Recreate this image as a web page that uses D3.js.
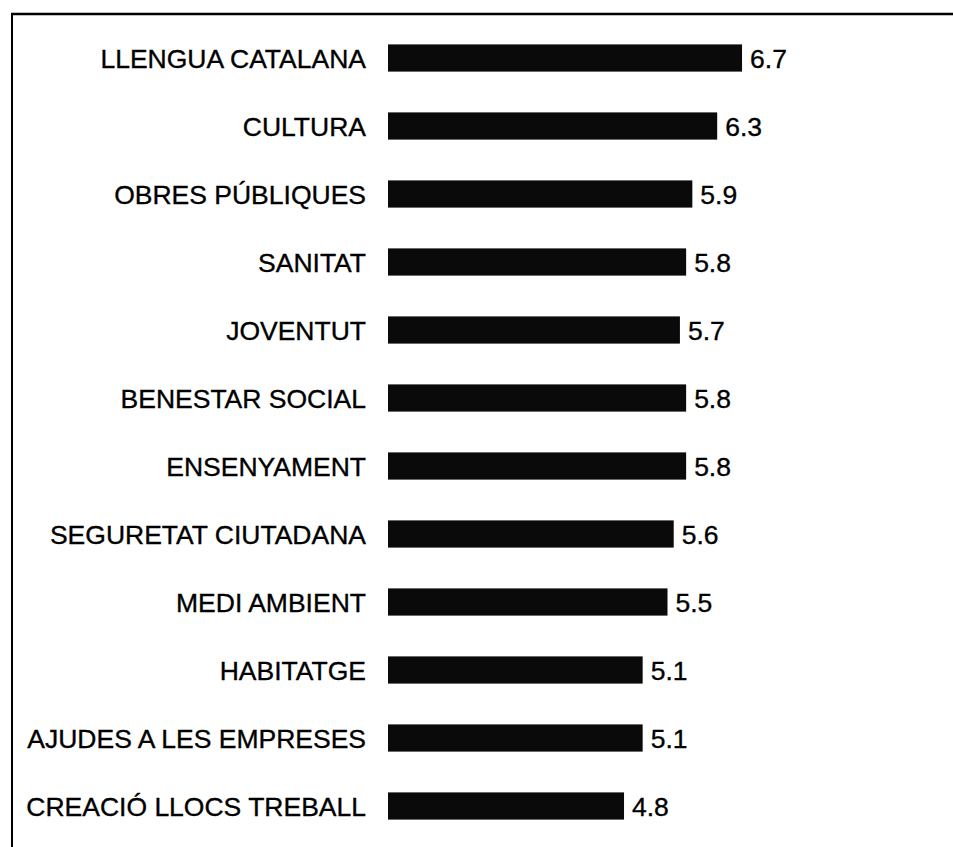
<!DOCTYPE html>
<html>
<head>
<meta charset="utf-8">
<script src="https://cdn.jsdelivr.net/npm/d3@7"></script>
<style>
  html, body { margin: 0; padding: 0; background: #fff; }
  svg { display: block; }
</style>
</head>
<body>
<script>
const categories = [
  "LLENGUA CATALANA", "CULTURA", "OBRES PÚBLIQUES", "SANITAT", "JOVENTUT",
  "BENESTAR SOCIAL", "ENSENYAMENT", "SEGURETAT CIUTADANA", "MEDI AMBIENT",
  "HABITATGE", "AJUDES A LES EMPRESES", "CREACIÓ LLOCS TREBALL"
];
const values = [6.7, 6.3, 5.9, 5.8, 5.7, 5.8, 5.8, 5.6, 5.5, 5.1, 5.1, 4.8];
const valueLabels = ["6.7", "6.3", "5.9", "5.8", "5.7", "5.8", "5.8", "5.6", "5.5", "5.1", "5.1", "4.8"];

const W = 953, H = 847;
const svg = d3.select("body").append("svg").attr("width", W).attr("height", H);

// frame
svg.append("line").attr("x1", 11).attr("x2", W).attr("y1", 14).attr("y2", 14)
  .attr("stroke", "#000").attr("stroke-width", 2.5);
svg.append("line").attr("x1", 12).attr("x2", 12).attr("y1", 13).attr("y2", H)
  .attr("stroke", "#000").attr("stroke-width", 2);

const x = d3.scaleLinear().domain([1, 10]).range([388, 947]);
const y = d3.scaleBand().domain(categories).range([24, 840]).paddingInner(0.6).paddingOuter(0.3);

const g = svg.append("g");
const data = categories.map((c, i) => ({ c, v: values[i], l: valueLabels[i] }));

g.selectAll("rect.bar").data(data).enter().append("rect")
  .attr("class", "bar")
  .attr("x", x(1))
  .attr("y", d => y(d.c))
  .attr("width", d => x(d.v) - x(1))
  .attr("height", y.bandwidth())
  .attr("fill", "#0a0a0a");

g.selectAll("text.cat").data(data).enter().append("text")
  .attr("class", "cat")
  .attr("x", x(1) - 22)
  .attr("y", d => y(d.c) + y.bandwidth() / 2)
  .attr("dy", "0.38em")
  .attr("text-anchor", "end")
  .attr("font-family", "Liberation Sans, Arial, Helvetica, sans-serif")
  .attr("font-size", 26.5)
  .attr("fill", "#000")
  .attr("stroke", "#000")
  .attr("stroke-width", 0.35)
  .text(d => d.c);

g.selectAll("text.val").data(data).enter().append("text")
  .attr("class", "val")
  .attr("x", d => x(d.v) + 8)
  .attr("y", d => y(d.c) + y.bandwidth() / 2)
  .attr("dy", "0.38em")
  .attr("font-family", "Liberation Sans, Arial, Helvetica, sans-serif")
  .attr("font-size", 26.5)
  .attr("fill", "#000")
  .attr("stroke", "#000")
  .attr("stroke-width", 0.35)
  .text(d => d.l);
</script>
</body>
</html>
